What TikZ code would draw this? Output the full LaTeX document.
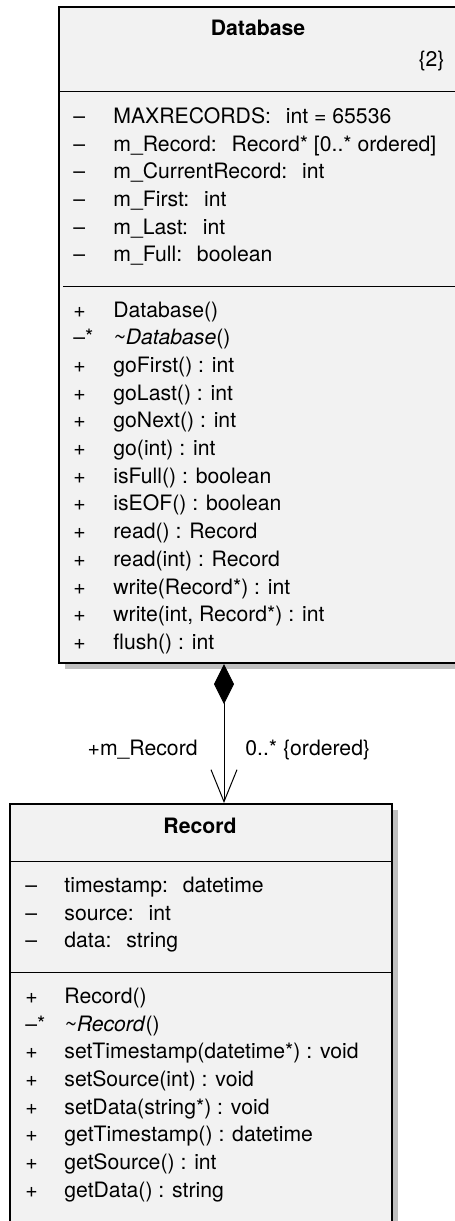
\documentclass[tikz,border=0pt]{standalone}
\usepackage{fontspec}
\setmainfont{TeX Gyre Heros}
\usetikzlibrary{arrows.meta, shadows}
\definecolor{classfill}{RGB}{242,242,242}
\definecolor{shadowgray}{RGB}{192,192,192}
\newcommand{\typegap}{\hspace{0.7em}}

\begin{document}
\begin{tikzpicture}[x=0.5pt, y=-0.5pt,
    classbox/.style={draw, line width=1pt, fill=classfill, anchor=north west, inner sep=0pt,
      drop shadow={shadow xshift=3pt, shadow yshift=-3pt, fill=shadowgray, opacity=1}},
    member/.style={anchor=base west, inner sep=0pt, font=\fontsize{10.6pt}{12pt}\selectfont},
    classname/.style={member, anchor=base, font=\fontsize{10.6pt}{12pt}\selectfont\bfseries},
    divider/.style={line width=0.5pt}]
  \useasboundingbox (0,0) rectangle (455,1221);
  \clip (0,0) rectangle (455,1221);

  \node[classbox, minimum width=200pt, minimum height=328pt] (db) at (58,6) {};
  \node[classname] (dbname) at (258,35) {Database};
  \node[member, anchor=base east] (dbtag) at (445,66.7) {\{2\}};
  \draw[divider] (db.west |- 0,91) -- (db.east |- 0,91);
  \draw[divider] (63,286) -- (db.east |- 0,286);
  \foreach \txt [count=\i] in {MAXRECORDS:\typegap int = 65536, m\_Record:\typegap Record* [0..* ordered],
      m\_CurrentRecord:\typegap int, m\_First:\typegap int, m\_Last:\typegap int, m\_Full:\typegap boolean}
  {
    \node[member] (dbsign\i) at (73,{123.3+27.7*(\i-1)}) {\textendash};
    \node[member] (dbattr\i) at (113,{123.3+27.7*(\i-1)}) {\txt};
  }
  \foreach \sgn/\txt [count=\i] in {+/Database(), {\textendash*}/{\textit{\textasciitilde Database}()},
      +/goFirst() : int, +/goLast() : int, +/goNext() : int, +/go(int) : int,
      +/isFull() : boolean, +/isEOF() : boolean, +/read() : Record, +/read(int) : Record,
      +/write(Record*) : int, +/{write(int, Record*) : int}, +/flush() : int}
  {
    \node[member] (dbopsign\i) at (73,{317.3+27.67*(\i-1)}) {\sgn};
    \node[member] (dbop\i) at (113,{317.3+27.67*(\i-1)}) {\txt};
  }

  \node[classbox, minimum width=191pt, minimum height=220pt] (rec) at (9,803) {};
  \node[classname] (recname) at (200,833.3) {Record};
  \draw[divider] (rec.west |- 0,861) -- (rec.east |- 0,861);
  \draw[divider] (rec.west |- 0,972) -- (rec.east |- 0,972);
  \foreach \txt [count=\i] in {timestamp:\typegap datetime, source:\typegap int, data:\typegap string}
  {
    \node[member] (recsign\i) at (25,{892.3+27.7*(\i-1)}) {\textendash};
    \node[member] (recattr\i) at (64,{892.3+27.7*(\i-1)}) {\txt};
  }
  \foreach \sgn/\txt [count=\i] in {+/Record(), {\textendash*}/{\textit{\textasciitilde Record}()},
      +/setTimestamp(datetime*) : void, +/setSource(int) : void, +/setData(string*) : void,
      +/getTimestamp() : datetime, +/getSource() : int, +/getData() : string}
  {
    \node[member] (recopsign\i) at (25,{1003.3+27.7*(\i-1)}) {\sgn};
    \node[member] (recop\i) at (64,{1003.3+27.7*(\i-1)}) {\txt};
  }

  \coordinate (link) at (224,0);
  \draw[line width=0.5pt, {Diamond[length=20pt,width=10pt]}-{Straight Barb[length=16pt,width=13pt]}]
    (db.south -| link) -- (rec.north -| link);
  \node[member, anchor=base east] (role) at (198,755) {+m\_Record};
  \node[member] (mult) at (245,755) {0..* \{ordered\}};
\end{tikzpicture}
\end{document}
